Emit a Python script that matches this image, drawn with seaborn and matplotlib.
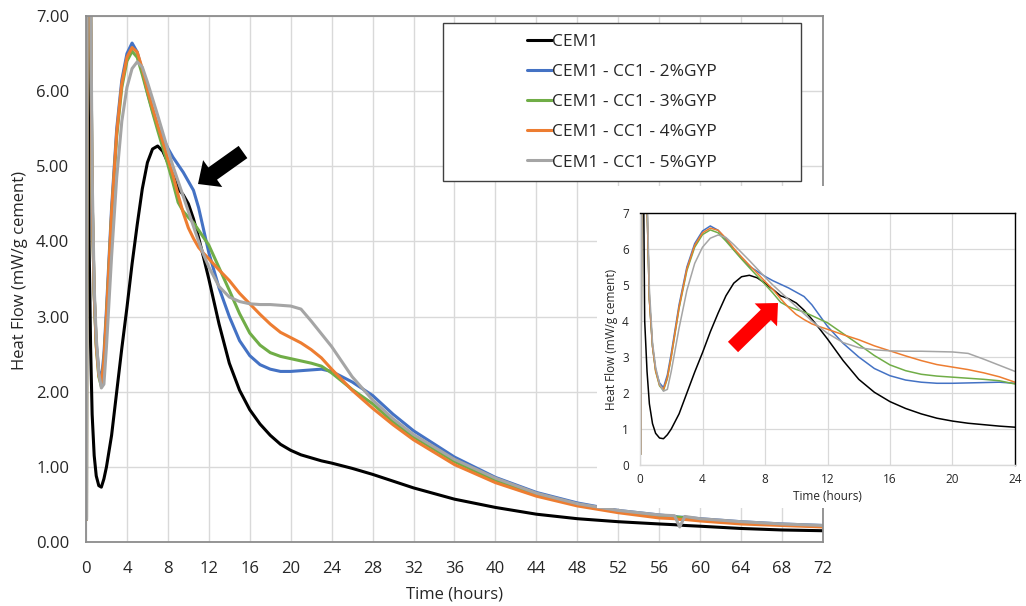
import matplotlib
matplotlib.use("Agg")
import matplotlib.pyplot as plt
import matplotlib.patches as mpatches
from matplotlib.transforms import IdentityTransform
from matplotlib.lines import Line2D
import seaborn as sns

# ---------------- data ----------------
time_h = [0.05, 0.15, 0.3, 0.45, 0.6, 0.8, 1.0, 1.25, 1.5, 1.75, 2.0,
          2.5, 3.0, 3.5, 4.0, 4.5, 5.0, 5.5, 6.0, 6.5, 7.0, 7.5, 8.0, 8.5,
          9.0, 9.5, 10.0, 10.5, 11.0, 11.5, 12.0,
          13, 14, 15, 16, 17, 18, 19, 20, 21, 22, 23, 24,
          26, 28, 30, 32, 36, 40, 44, 48, 52, 56, 57.5, 58, 58.5, 60, 64, 68, 72]

cem1 = [12, 12, 4.0, 2.6, 1.7, 1.15, 0.88, 0.75, 0.73, 0.84, 1.0,
        1.42, 2.0, 2.58, 3.12, 3.7, 4.22, 4.7, 5.05, 5.23, 5.27, 5.2, 5.05, 4.88,
        4.7, 4.62, 4.5, 4.3, 4.05, 3.78, 3.5,
        2.9, 2.38, 2.02, 1.76, 1.57, 1.42, 1.3, 1.22, 1.16, 1.12, 1.08, 1.05,
        0.98, 0.9, 0.81, 0.72, 0.57, 0.46, 0.37, 0.31, 0.27, 0.24, 0.23, 0.225, 0.22, 0.21, 0.18, 0.16, 0.15]

gyp2 = [0.3, 12, 11, 7.2, 4.6, 3.3, 2.65, 2.28, 2.15, 2.5, 3.1,
        4.45, 5.5, 6.15, 6.5, 6.64, 6.52, 6.27, 5.98, 5.74, 5.52, 5.38, 5.24, 5.12,
        5.02, 4.92, 4.8, 4.68, 4.45, 4.15, 3.85,
        3.38, 3.0, 2.68, 2.48, 2.36, 2.3, 2.27, 2.27, 2.28, 2.29, 2.3, 2.27,
        2.13, 1.95, 1.7, 1.48, 1.13, 0.86, 0.66, 0.52, 0.42, 0.36, 0.34, 0.33, 0.33, 0.31, 0.27, 0.24, 0.22]

gyp3 = [0.3, 12, 11, 7.2, 4.6, 3.3, 2.6, 2.2, 2.07, 2.4, 3.0,
        4.35, 5.4, 6.05, 6.4, 6.53, 6.45, 6.22, 5.97, 5.72, 5.48, 5.25, 5.02, 4.78,
        4.52, 4.4, 4.32, 4.25, 4.15, 4.05, 3.95,
        3.65, 3.35, 3.04, 2.78, 2.62, 2.52, 2.47, 2.44, 2.41, 2.38, 2.34, 2.25,
        2.03, 1.84, 1.6, 1.4, 1.07, 0.82, 0.63, 0.5, 0.41, 0.35, 0.33, 0.33, 0.32, 0.3, 0.26, 0.23, 0.21]

gyp4 = [0.3, 12, 11, 7.2, 4.6, 3.3, 2.62, 2.22, 2.1, 2.42, 3.02,
        4.38, 5.45, 6.1, 6.45, 6.58, 6.52, 6.3, 6.02, 5.78, 5.55, 5.33, 5.1, 4.88,
        4.62, 4.38, 4.18, 4.04, 3.92, 3.84, 3.77,
        3.62, 3.48, 3.31, 3.17, 3.03, 2.9, 2.79, 2.72, 2.65, 2.56, 2.45, 2.3,
        2.02, 1.78, 1.56, 1.36, 1.03, 0.79, 0.61, 0.48, 0.39, 0.32, 0.31, 0.3, 0.3, 0.28, 0.24, 0.22, 0.2]

gyp5 = [0.3, 12, 11.5, 7.6, 4.9, 3.4, 2.72, 2.25, 2.05, 2.1, 2.6,
        3.8, 4.85, 5.6, 6.05, 6.3, 6.39, 6.32, 6.12, 5.9, 5.68, 5.45, 5.22, 5.0,
        4.8, 4.6, 4.4, 4.2, 4.0, 3.82, 3.66,
        3.4, 3.26, 3.2, 3.17, 3.16, 3.16, 3.15, 3.14, 3.1, 2.94, 2.77, 2.6,
        2.2, 1.89, 1.64, 1.43, 1.1, 0.85, 0.65, 0.51, 0.42, 0.36, 0.35, 0.2, 0.34, 0.31, 0.27, 0.24, 0.22]

series_labels = ["CEM1", "CEM1 - CC1 - 2%GYP", "CEM1 - CC1 - 3%GYP",
                 "CEM1 - CC1 - 4%GYP", "CEM1 - CC1 - 5%GYP"]
series_values = [cem1, gyp2, gyp3, gyp4, gyp5]
series_colors = ["#000000", "#4472C4", "#70AD47", "#ED7D31", "#A5A5A5"]

main_xticks = list(range(0, 73, 4))
main_yticks = [0, 1, 2, 3, 4, 5, 6, 7]
inset_xticks = list(range(0, 25, 4))

# ---------------- style ----------------
sns.set_theme(style="white")
plt.rcParams["font.family"] = ["Open Sans", "DejaVu Sans"]
TXT = "#262626"
GRID = "#d9d9d9"

W, H = 1026, 606
fig = plt.figure(figsize=(W / 100, H / 100), dpi=100)
fig.patch.set_facecolor("white")


def box(x0, y0, x1, y1):
    """image-pixel box -> figure-fraction rect"""
    return [x0 / W, 1 - y1 / H, (x1 - x0) / W, (y1 - y0) / H]


# ---------------- main axes ----------------
ax = fig.add_axes(box(86, 16, 823, 542))
ax.set_zorder(0)
for lab, vals, col in zip(series_labels, series_values, series_colors):
    sns.lineplot(x=time_h, y=vals, ax=ax, color=col, lw=2.2, sort=False,
                 estimator=None, legend=False)
ax.set_xlim(0, 72)
ax.set_ylim(0, 7)
ax.set_xticks(main_xticks)
ax.set_yticks(main_yticks)
ax.set_yticklabels([f"{v:.2f}" for v in main_yticks])
ax.grid(True, color=GRID, lw=1.0)
ax.set_axisbelow(True)
ax.tick_params(axis="both", length=0, labelsize=12, colors=TXT)
ax.tick_params(axis="x", pad=13.5)
ax.tick_params(axis="y", pad=12)
for s in ax.spines.values():
    s.set_color("#8c8c8c")
    s.set_linewidth(1.3)
ax.set_xlabel("Time (hours)", fontsize=12, color=TXT, labelpad=7)
ax.set_ylabel("Heat Flow (mW/g cement)", fontsize=12, color=TXT, labelpad=6)
ax.yaxis.label.set_y(0.517)

# ---------------- legend (white box with centred entries) ----------------
fig.add_artist(mpatches.Rectangle((443, H - 181), 358, 158, transform=IdentityTransform(),
                                  facecolor="white", edgecolor="#404040", lw=1.0, zorder=2))
handles = [Line2D([], [], color=c, lw=2.2) for c in series_colors]
leg = fig.legend(handles, series_labels, loc="center", bbox_to_anchor=(622 / W, 1 - 102 / H),
                 frameon=False, fontsize=12.5, handlelength=1.4, handletextpad=0.0,
                 labelspacing=0.81, borderpad=0)
leg.set_zorder(3)
for t in leg.get_texts():
    t.set_color(TXT)

# black arrow
fig.add_artist(mpatches.FancyArrow(243, H - 152, -45, -32, width=15, head_width=33, head_length=18,
                                   length_includes_head=True, transform=IdentityTransform(),
                                   color="black", lw=0, zorder=2))

# ---------------- inset ----------------
fig.add_artist(mpatches.Rectangle((597, H - 508), 429, 322, transform=IdentityTransform(),
                                  facecolor="white", edgecolor="none", zorder=4))
axi = fig.add_axes(box(640, 213, 1015, 465))
axi.set_zorder(5)
axi.patch.set_alpha(0)
for lab, vals, col in zip(series_labels, series_values, series_colors):
    sns.lineplot(x=time_h, y=vals, ax=axi, color=col, lw=1.1, sort=False,
                 estimator=None, legend=False)
axi.set_xlim(0, 24)
axi.set_ylim(0, 7)
axi.set_xticks(inset_xticks)
axi.set_yticks(main_yticks)
axi.grid(True, color=GRID, lw=0.9)
axi.set_axisbelow(True)
axi.tick_params(axis="both", length=0, labelsize=8.5, colors=TXT)
axi.tick_params(axis="x", pad=6)
axi.tick_params(axis="y", pad=8)
axi.spines["top"].set_color("black")
axi.spines["right"].set_color("black")
axi.spines["left"].set_color(GRID)
axi.spines["bottom"].set_color(GRID)
for s in axi.spines.values():
    s.set_linewidth(1.0)
axi.set_xlabel("Time (hours)", fontsize=8.5, color=TXT, labelpad=3)
axi.set_ylabel("Heat Flow (mW/g cement)", fontsize=8.5, color=TXT, labelpad=3)

# red arrow
fig.add_artist(mpatches.FancyArrow(733, H - 347, 45, 44, width=14.5, head_width=32, head_length=17,
                                   length_includes_head=True, transform=IdentityTransform(),
                                   color="#ff0000", lw=0, zorder=6))

fig.savefig("out.png", dpi=100, facecolor="white")
